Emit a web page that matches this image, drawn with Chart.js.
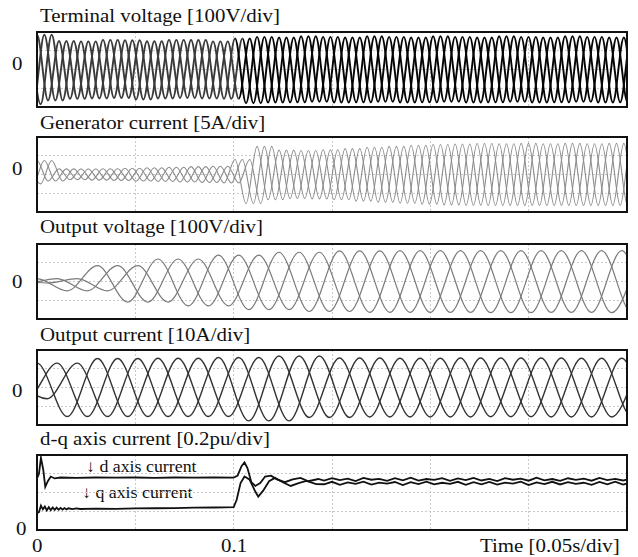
<!DOCTYPE html>
<html><head><meta charset="utf-8">
<script src="https://cdn.jsdelivr.net/npm/chart.js@4.4.0/dist/chart.umd.min.js"></script>
<style>
body{margin:0;background:#fff;width:638px;height:557px;position:relative;overflow:hidden;font-family:"Liberation Serif","Times New Roman",serif;color:#111}
.lbl{position:absolute;font-size:19px;line-height:19px;white-space:nowrap;transform:scaleX(1.1);transform-origin:left top}
.dq{position:absolute;font-size:17px;line-height:17px;white-space:nowrap;transform:scaleX(1.05);transform-origin:left top}
.panel{position:absolute;left:35px;width:594px;height:79px}
</style></head><body>

<div class="lbl" style="left:40px;top:6px">Terminal voltage [100V/div]</div>
<div class="lbl" style="left:40px;top:113px">Generator current [5A/div]</div>
<div class="lbl" style="left:40px;top:217px">Output voltage [100V/div]</div>
<div class="lbl" style="left:40px;top:325px">Output current [10A/div]</div>
<div class="lbl" style="left:40px;top:429px">d-q axis current [0.2pu/div]</div>

<div class="lbl" style="left:12px;top:54px">0</div>
<div class="lbl" style="left:12px;top:159px">0</div>
<div class="lbl" style="left:12px;top:272px">0</div>
<div class="lbl" style="left:12px;top:381px">0</div>
<div class="lbl" style="left:16px;top:519px">0</div>

<div class="lbl" style="left:32px;top:536px">0</div>
<div class="lbl" style="left:221px;top:536px">0.1</div>
<div class="lbl" style="left:480px;top:536px">Time [0.05s/div]</div>

<div class="dq" style="left:86px;top:458px">↓ d axis current</div>
<div class="dq" style="left:82px;top:484px">↓ q axis current</div>

<div class="panel" style="top:30px"><canvas id="c1" width="594" height="79"></canvas></div>
<div class="panel" style="top:135px"><canvas id="c2" width="594" height="79"></canvas></div>
<div class="panel" style="top:242px"><canvas id="c3" width="594" height="79"></canvas></div>
<div class="panel" style="top:348px"><canvas id="c4" width="594" height="79"></canvas></div>
<div class="panel" style="top:453px"><canvas id="c5" width="594" height="79"></canvas></div>

<script>
// ---- data (values in divisions, time in seconds) ----
const timeRange = [0, 0.3];
const timeStep = 0.05;

// generator side (terminal voltage & generator current): period of one cycle
const genPeriod = 0.01119;
// output side (output voltage & current): period of one cycle
const outPeriod = 0.03076;

// peak magnitude of each half-cycle (recorded scope extrema), starting one period before t=0
const terminalPeaks = [1.85,1.85,1.85,1.65,1.52,1.56,1.5,1.55,1.58,1.52,1.56,1.6,1.51,1.55,1.58,1.52,1.57,1.55,1.5,1.56,
  1.65,1.8,
  1.74,1.76,1.71,1.75,1.77,1.72,1.74,1.76,1.71,1.75,1.77,1.72,1.74,1.76,1.71,1.75,1.77,1.72,
  1.74,1.76,1.71,1.75,1.77,1.72,1.74,1.76,1.71,1.75,1.77,1.72,1.74,1.76,1.71,1.75,1.77,1.72];
const generatorPeaks = [0.3,0.5,0.75,0.35,0.3,0.28,0.29,0.3,0.31,0.32,0.33,0.35,0.36,0.37,0.39,0.4,0.42,0.43,0.44,0.45,
  0.8,1.55,1.5,1.35,1.3,1.28,1.28,1.3,1.32,1.35,1.38,1.42,1.45,1.48,1.5,1.53,1.56,1.58,1.6,1.62,
  1.63,1.64,1.65,1.65,1.64,1.65,1.66,1.65,1.64,1.65,1.66,1.65,1.64,1.65,1.66,1.65,1.65,1.65];
const outVoltagePeaks = [0.05,0.08,0.15,0.5,0.85,1.1,1.2,1.3,1.41,1.5,1.56,1.6,1.63,1.65,1.65,1.65,1.65,1.66,1.65,1.65,1.65,1.66,1.65];
const outCurrentPeaks = [0.3,0.6,1.3,1.55,1.55,1.55,1.56,1.55,1.6,1.78,1.68,1.6,1.57,1.57,1.56,1.57,1.57,1.56,1.57,1.57,1.56,1.57,1.57];

// d-q currents: transient points (time, value) then steady samples
const dTime  = [0,0.001,0.002,0.0032,0.0042,0.0055,0.007,0.009,0.012,0.02,0.03,0.04,0.05,0.06,0.07,0.08,0.09,0.1,
  0.102,0.104,0.1055,0.107,0.109,0.111,0.1135,0.116,0.119,0.122,0.126,0.13,0.134,0.138,0.143];
const dValue = [2.75,3.0,3.85,3.2,2.3,2.6,2.85,2.75,2.8,2.78,2.8,2.79,2.8,2.78,2.8,2.79,2.8,2.79,
  2.9,3.4,3.6,3.3,2.55,2.35,2.5,2.85,2.9,2.7,2.55,2.7,2.78,2.6,2.72];
const qTime  = [0,0.001,0.002,0.003,0.004,0.005,0.006,0.007,0.008,0.009,0.01,0.011,0.012,0.013,0.014,0.015,0.016,0.018,0.02,0.022,
  0.03,0.04,0.05,0.06,0.07,0.08,0.09,0.1,
  0.1015,0.1035,0.1055,0.108,0.111,0.1125,0.115,0.118,0.121,0.125,0.129,0.133,0.137,0.142];
const qValue = [0.9,0.95,1.3,1.1,1.25,1.05,1.22,1.06,1.2,1.07,1.19,1.08,1.18,1.09,1.17,1.1,1.16,1.11,1.15,1.12,
  1.14,1.13,1.15,1.16,1.17,1.19,1.2,1.22,
  1.6,2.5,2.85,2.7,2.05,1.78,2.1,2.6,2.78,2.55,2.35,2.5,2.62,2.45];
const steadyStart = 0.146, steadyStep = 0.004;
const dSteady = [2.64,2.77,2.66,2.74,2.61,2.78,2.68,2.73,2.62,2.76,2.65,2.79,2.63,2.72,2.67,2.77,2.62,2.75,2.66,2.78,
  2.64,2.73,2.61,2.77,2.68,2.74,2.63,2.79,2.65,2.72,2.62,2.76,2.67,2.74,2.63,2.78,2.66,2.73,2.64,2.75];
const qSteady = [2.44,2.57,2.41,2.54,2.46,2.58,2.42,2.53,2.47,2.56,2.4,2.55,2.45,2.58,2.43,2.52,2.46,2.57,2.41,2.55,
  2.44,2.56,2.42,2.53,2.47,2.58,2.4,2.54,2.45,2.57,2.43,2.55,2.46,2.52,2.41,2.56,2.44,2.58,2.42,2.54];

// ---- build chart datasets ----
function phaseSeries(peaks, period, phase) {
  const start = -period + phase * period / 3;
  return peaks.map((m, k) => ({ x: start + k * period / 2, y: (k % 2 ? -m : m) }));
}
function pairs(ts, vs) { return ts.map((t, i) => ({ x: t, y: vs[i] })); }
function sampled(start, step, vs) { return vs.map((v, i) => ({ x: start + i * step, y: v })); }

const boxPlugin = {
  id: 'box',
  afterDraw(chart) {
    const a = chart.chartArea, ctx = chart.ctx;
    ctx.save(); ctx.strokeStyle = '#111'; ctx.lineWidth = 2;
    ctx.strokeRect(a.left, a.top, a.right - a.left, a.bottom - a.top);
    ctx.restore();
  }
};

function threePhase(peaks, period, color, width, segColor) {
  return [0, 1, 2].map(p => ({
    data: phaseSeries(peaks, period, p),
    borderColor: color, borderWidth: width, pointRadius: 0,
    cubicInterpolationMode: 'monotone',
    segment: segColor ? { borderColor: segColor } : undefined
  }));
}

function makeChart(id, datasets, yMin, yMax) {
  const gridStyle = { drawTicks: false, color: '#c9c9c9', lineWidth: 1 };
  const borderStyle = { display: false, dash: [2, 2] };
  return new Chart(document.getElementById(id), {
    type: 'line',
    data: { datasets },
    options: {
      responsive: false, animation: false, devicePixelRatio: 1,
      layout: { padding: 2 },
      plugins: { legend: { display: false }, tooltip: { enabled: false } },
      elements: { point: { radius: 0 } },
      scales: {
        x: { type: 'linear', min: timeRange[0], max: timeRange[1],
             ticks: { display: false, stepSize: timeStep }, grid: gridStyle, border: borderStyle },
        y: { type: 'linear', min: yMin, max: yMax,
             ticks: { display: false, stepSize: 1 }, grid: gridStyle, border: borderStyle }
      }
    },
    plugins: [boxPlugin]
  });
}

makeChart('c1', threePhase(terminalPeaks, genPeriod, '#111', 1.9,
  c => (c.p0.parsed.x < 0.1 ? '#3a3a3a' : '#050505')), -2, 2);
makeChart('c2', threePhase(generatorPeaks, genPeriod, '#8c8c8c', 1.1), -2, 2);
makeChart('c3', threePhase(outVoltagePeaks, outPeriod, '#7a7a7a', 1.2), -2, 2);
makeChart('c4', threePhase(outCurrentPeaks, outPeriod, '#333', 1.4), -2, 2);
makeChart('c5', [
  { data: pairs(dTime, dValue).concat(sampled(steadyStart, steadyStep, dSteady)), borderColor: '#111', borderWidth: 1.8, pointRadius: 0, tension: 0 },
  { data: pairs(qTime, qValue).concat(sampled(steadyStart, steadyStep, qSteady)), borderColor: '#111', borderWidth: 1.8, pointRadius: 0, tension: 0 }
], 0, 4);
</script>
</body></html>
